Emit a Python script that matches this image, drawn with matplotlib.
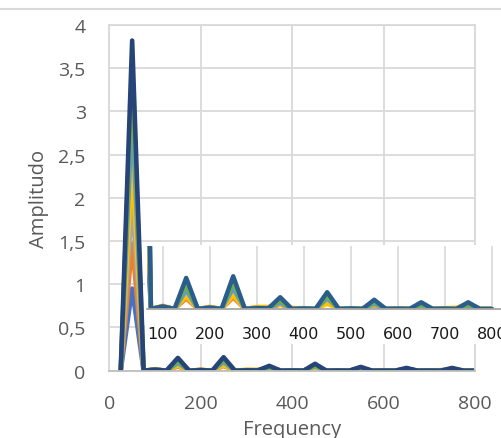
import matplotlib
matplotlib.use("Agg")
import matplotlib.pyplot as plt
from matplotlib.patches import Rectangle
from matplotlib.lines import Line2D

# ---------------- data ----------------
frequency = [25, 50, 75, 100, 125, 150, 175, 200, 225, 250, 275, 300, 325, 350, 375, 400,
             425, 450, 475, 500, 525, 550, 575, 600, 625, 650, 675, 700, 725, 750, 775, 800]

s_blue = [0, 0.95, 0, 0.012, 0, 0.075, 0, 0.008, 0, 0.085, 0, 0.004, 0.003, 0.025, 0, 0.002,
          0, 0.035, 0, 0.002, 0, 0.020, 0, 0.001, 0, 0.012, 0, 0.001, 0, 0.010, 0, 0]
s_orange = [0, 1.47, 0, 0.015, 0, 0.050, 0, 0.010, 0, 0.055, 0, 0.008, 0.006, 0.020, 0.004, 0.003,
            0, 0.030, 0, 0.003, 0.002, 0.018, 0, 0.002, 0, 0.012, 0, 0.002, 0.003, 0.015, 0, 0]
s_gray = [0, 1.95, 0, 0.010, 0, 0.065, 0, 0.006, 0, 0.070, 0, 0.005, 0.004, 0.028, 0, 0.002,
          0, 0.045, 0, 0.002, 0, 0.022, 0, 0.001, 0, 0.015, 0, 0.001, 0, 0.012, 0, 0]
s_gold = [0, 2.40, 0, 0.014, 0, 0.060, 0, 0.009, 0, 0.065, 0, 0.010, 0.010, 0.022, 0.005, 0.004,
          0, 0.025, 0, 0.004, 0.003, 0.020, 0, 0.003, 0.002, 0.015, 0, 0.004, 0.006, 0.025, 0.003, 0]
s_lightblue = [0, 3.00, 0, 0.010, 0, 0.090, 0, 0.006, 0, 0.100, 0, 0.004, 0.003, 0.030, 0, 0.002,
               0, 0.050, 0, 0.002, 0, 0.025, 0, 0.001, 0, 0.018, 0, 0.001, 0, 0.015, 0, 0]
s_green = [0, 3.45, 0, 0.012, 0, 0.115, 0, 0.007, 0, 0.125, 0, 0.005, 0.004, 0.040, 0, 0.003,
           0, 0.060, 0, 0.003, 0, 0.035, 0, 0.002, 0, 0.022, 0, 0.002, 0, 0.020, 0, 0]
s_darkblue = [0, 3.82, 0, 0.012, 0, 0.148, 0, 0.006, 0, 0.156, 0, 0.004, 0.003, 0.056, 0, 0.002,
              0, 0.080, 0, 0.002, 0, 0.044, 0, 0.001, 0, 0.032, 0, 0.001, 0, 0.032, 0, 0]

series = [s_blue, s_orange, s_gray, s_gold, s_lightblue, s_green, s_darkblue]
colors = ["#4472C4", "#ED7D31", "#A5A5A5", "#FFC000", "#5B9BD5", "#70AD47", "#264478"]
inset_colors = ["#4472C4", "#ED7D31", "#A5A5A5", "#FFC000", "#5B9BD5", "#70AD47", "#2a5c8c"]

x_ticks = [0, 200, 400, 600, 800]
y_ticks = [0, 0.5, 1, 1.5, 2, 2.5, 3, 3.5, 4]
y_tick_labels = ["0", "0,5", "1", "1,5", "2", "2,5", "3", "3,5", "4"]
inset_ticks = [100, 200, 300, 400, 500, 600, 700, 800]
x_title = "Frequency"
y_title = "Amplitudo"

# ---------------- figure ----------------
W, H = 502, 439
fig = plt.figure(figsize=(W / 100, H / 100), dpi=100)
fig.patch.set_facecolor("white")

def px_rect(x0, y0, x1, y1):
    return [x0 / W, 1 - y1 / H, (x1 - x0) / W, (y1 - y0) / H]

grid_c = "#d9d9d9"
text_c = "#595959"
font = ["Open Sans", "DejaVu Sans"]

# top border line of chart area
fig.add_artist(Line2D([0, 1], [1 - 9.5 / H, 1 - 9.5 / H], transform=fig.transFigure,
                      color=grid_c, lw=1.5))

ax = fig.add_axes(px_rect(109.3, 26, 475, 371.7))
for s, c in zip(series, colors):
    ax.plot(frequency, s, color=c, lw=3.3, solid_joinstyle="round", solid_capstyle="round")
ax.set_xlim(0, 800)
ax.set_ylim(0, 4)
ax.set_xticks(x_ticks)
ax.set_xticklabels([str(v) for v in x_ticks])
ax.set_yticks(y_ticks)
ax.set_yticklabels(y_tick_labels)
ax.grid(True, color=grid_c, lw=1.3)
ax.set_axisbelow(True)
for side in ["left", "top", "right"]:
    ax.spines[side].set_color(grid_c)
    ax.spines[side].set_linewidth(1.3)
ax.spines["bottom"].set_color("#bfbfbf")
ax.spines["bottom"].set_linewidth(1.3)
ax.tick_params(length=0, labelcolor=text_c, labelsize=14)
ax.tick_params(axis="x", pad=17)
ax.tick_params(axis="y", pad=17)
for lab in ax.get_xticklabels() + ax.get_yticklabels():
    lab.set_fontfamily(font)
ax.set_xlabel(x_title, color=text_c, fontsize=14.5, family=font, labelpad=5)
ax.set_ylabel(y_title, color=text_c, fontsize=14.5, family=font, labelpad=7)

# white background of the inset chart
fig.add_artist(Rectangle((145 / W, 1 - 345 / H), 1 - 145 / W, 99 / H,
                         transform=fig.transFigure, facecolor="white", edgecolor="none",
                         zorder=1))

ins = fig.add_axes(px_rect(147, 247, 540, 310), zorder=2)
ins.patch.set_alpha(0)
for s, c in zip(series, inset_colors):
    ins.plot(frequency, s, color=c, lw=3.2, solid_joinstyle="round", solid_capstyle="round")
ins.set_xlim(66.6, 902.8)
ins.set_ylim(0, 0.3)
ins.set_xticks(inset_ticks)
ins.set_xticklabels([str(v) for v in inset_ticks])
ins.set_yticks([])
ins.grid(True, axis="x", color=grid_c, lw=1.2)
ins.set_axisbelow(True)
for side in ["left", "top", "right"]:
    ins.spines[side].set_visible(False)
ins.spines["bottom"].set_color("#a6a6a6")
ins.spines["bottom"].set_linewidth(1.3)
ins.tick_params(length=0, labelcolor="#1a1a1a", labelsize=11.5, pad=12)
for lab in ins.get_xticklabels():
    lab.set_fontfamily("DejaVu Sans")

fig.savefig("out.png", dpi=100, facecolor="white")
